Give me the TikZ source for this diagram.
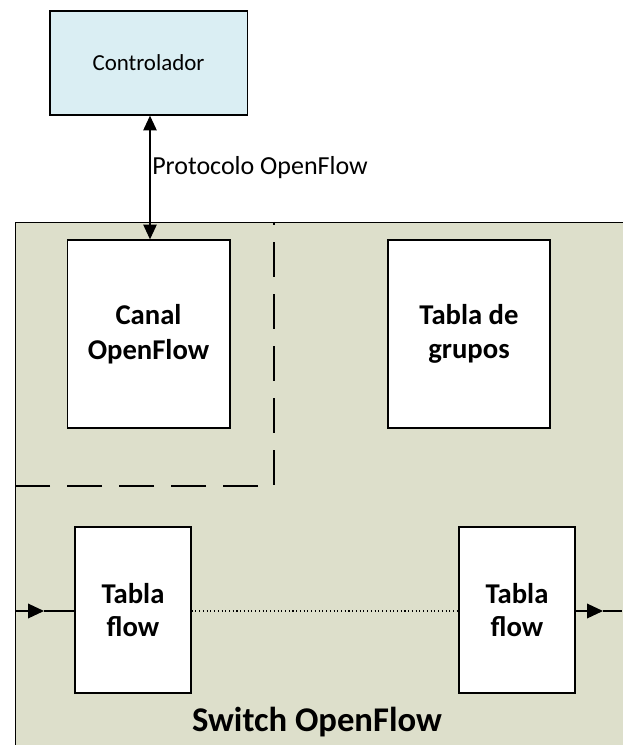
\documentclass[tikz,border=0pt]{standalone}
\usepackage{fontspec}
\setmainfont{Carlito}
\usetikzlibrary{arrows.meta}
\definecolor{switchfill}{RGB}{221,223,203}
\definecolor{ctrlfill}{RGB}{218,238,243}
\begin{document}
\begin{tikzpicture}
[
    x=0.75pt, y=-0.75pt,
    box/.style={draw, line width=1pt, fill=white, align=center, inner sep=0pt,
        font=\fontsize{21.5}{26}\selectfont\bfseries},
    tip/.style={-{Triangle[length=12pt,width=11pt]}},
]
\useasboundingbox (0,0) rectangle (622,745);
\node [draw, line width=1pt, fill=switchfill, minimum width=469.5pt, minimum height=405pt,
    anchor=north west, inner sep=0pt] (switch) at (15,222) {};
\node [draw, line width=1pt, fill=ctrlfill, minimum width=148pt, minimum height=78pt,
    font=\fontsize{17.2}{21}\selectfont] (ctrl) at (148.5,63) {Controlador};
\node [box, minimum width=122pt, minimum height=141pt] (canal) at (148.5,334)
    {Canal\\OpenFlow};
\node [box, minimum width=121.5pt, minimum height=141pt] (grupos) at (469,334)
    {Tabla de\\grupos};
\node [box, minimum width=87pt, minimum height=124.5pt, font=\fontsize{21.5}{25}\selectfont\bfseries]
    (flowa) at (133,610) {Tabla\\flow};
\node [box, minimum width=87pt, minimum height=124.5pt, font=\fontsize{21.5}{25}\selectfont\bfseries]
    (flowb) at (517,610) {Tabla\\flow};
\node [anchor=west, inner sep=0pt, font=\fontsize{19.5}{23}\selectfont] (proto) at (152,168)
    {Protocolo OpenFlow};
\node [font=\fontsize{26}{31}\selectfont\bfseries] (title) at (317,722) {Switch OpenFlow};
\coordinate (dtop) at (274,222);
\coordinate (dcorner) at (274,486);
\coordinate (dleft) at (15,486);
\coordinate (inl) at (15,611);
\coordinate (inmid) at (44,611);
\coordinate (outmid) at (603,611);
\coordinate (outr) at (622,611);
\draw [line width=1.5pt, dash pattern=on 26pt off 13pt, dash phase=-15pt]
    (dtop) -- (dcorner) -- (dleft);
\draw [line width=1pt, {Triangle[length=11pt,width=10pt]}-{Triangle[length=11pt,width=10pt]}]
    (ctrl.south -| 150,0) -- (canal.north -| 150,0);
\draw [line width=1pt, tip] (inl) -- (inmid);
\draw [line width=1pt] (inmid) -- (inmid -| flowa.west);
\draw [line width=0.8pt, dotted] (flowa.east |- 0,611) -- (flowb.west |- 0,611);
\draw [line width=1pt, tip] (flowb.east |- 0,611) -- (outmid);
\draw [line width=1pt] (outmid) -- (outr);
\end{tikzpicture}
\end{document}
